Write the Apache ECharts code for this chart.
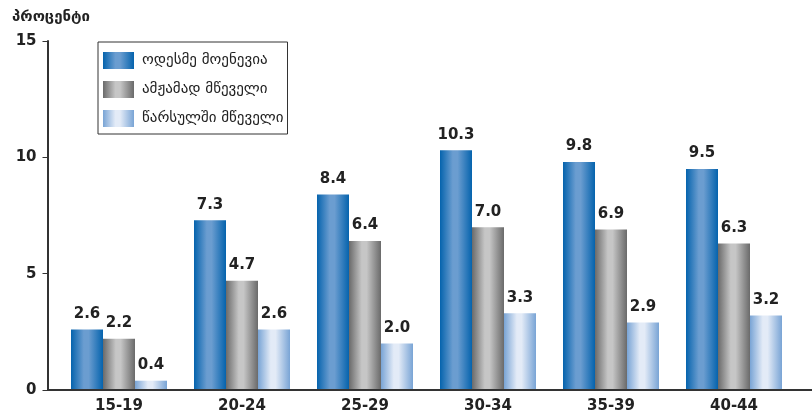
<!DOCTYPE html>
<html><head><meta charset="utf-8">
<script src="https://cdn.jsdelivr.net/npm/echarts@6/dist/echarts.min.js"></script>
<style>html,body{margin:0;padding:0;background:#fff}#c{width:812px;height:416px}</style>
</head><body><div id="c"></div>
<script>
const categories = ['15-19','20-24','25-29','30-34','35-39','40-44'];
const seriesNames = ['ოდესმე მოენევია','ამჟამად მწეველი','წარსულში მწეველი'];
const everSmoked = [2.6, 7.3, 8.4, 10.3, 9.8, 9.5];
const currentSmokers = [2.2, 4.7, 6.4, 7.0, 6.9, 6.3];
const formerSmokers = [0.4, 2.6, 2.0, 3.3, 2.9, 3.2];
const yTicks = [0, 5, 10, 15];
const yTitle = 'პროცენტი';

const FONT = 'DejaVu Sans';
function grad(edge, mid){
  return new echarts.graphic.LinearGradient(0,0,1,0,[
    {offset:0,color:edge},{offset:0.4,color:mid},{offset:0.55,color:mid},{offset:1,color:edge}
  ]);
}
const colors = [
  grad('#0563ad','#6b9dd0'),
  grad('#6a6a6a','#c6c6c6'),
  grad('#79a4d5','#e3ebf7')
];
const values = [everSmoked, currentSmokers, formerSmokers];

const chart = echarts.init(document.getElementById('c'), null, {renderer:'canvas'});
const option = {
  animation:false,
  grid:{left:57.5, right:16.5, top:41, bottom:26, containLabel:false},
  title:{text:yTitle, left:7, top:5, textStyle:{fontFamily:FONT, fontSize:15, fontWeight:'bold', color:'#222'}},
  legend:{
    orient:'vertical', left:98, top:42,
    padding:[10,4,7,5], itemGap:12, itemWidth:31, itemHeight:17,
    borderColor:'#333', borderWidth:1, borderRadius:0,
    icon:'rect',
    textStyle:{fontFamily:FONT, fontSize:15, color:'#222', padding:[0,0,0,3]},
    data:seriesNames
  },
  xAxis:{
    type:'category', data:categories,
    axisLine:{show:false}, axisTick:{show:false},
    axisLabel:{fontFamily:FONT, fontSize:15, fontWeight:'bold', color:'#222', margin:9}
  },
  yAxis:{
    type:'value', min:yTicks[0], max:yTicks[yTicks.length-1], interval:5, offset:10,
    axisLine:{show:true, lineStyle:{color:'#333', width:2}},
    axisTick:{show:true, length:5, lineStyle:{color:'#333', width:1}},
    splitLine:{show:false},
    axisLabel:{fontFamily:FONT, fontSize:15, fontWeight:'bold', color:'#222', margin:11}
  },
  series: seriesNames.map((n,i)=>({
    name:n, type:'bar', data:values[i], barWidth:32, barGap:'0%',
    itemStyle:{color:colors[i]},
    label:{show:true, position:'top', distance:8, fontFamily:FONT, fontSize:15, fontWeight:'bold', color:'#222',
      formatter:p=>p.value.toFixed(1)}
  }))
};
chart.setOption(option);
const y0 = chart.convertToPixel({yAxisIndex:0}, 0);
chart.setOption({graphic:[{type:'line', shape:{x1:47, y1:y0, x2:812, y2:y0}, style:{stroke:'#333', lineWidth:2}, z:10}]});
</script></body></html>
